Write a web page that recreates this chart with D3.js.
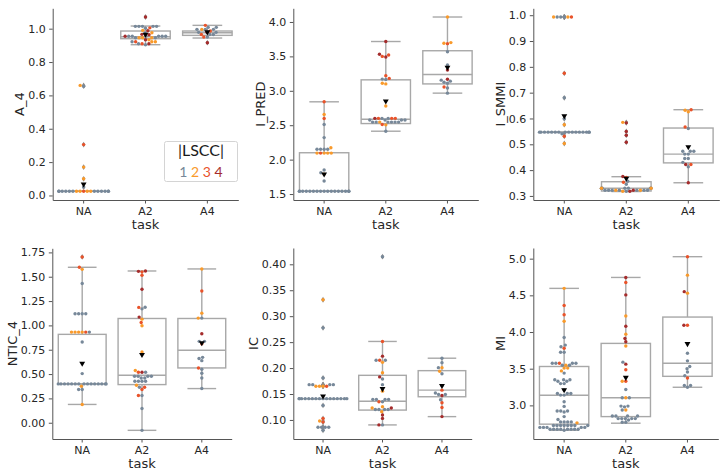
<!DOCTYPE html>
<html>
<head>
<meta charset="utf-8">
<script src="https://cdn.jsdelivr.net/npm/d3@7"></script>
<style>
  body { margin: 0; background: #fff; }
  svg { display: block; }
</style>
</head>
<body>
<svg id="chart" width="727" height="475"></svg>
<script>
// categories and LSCC classes
var tasks = ["NA", "A2", "A4"];
var lsccLabels = ["1", "2", "3", "4"];
var lsccColors = ["#778899", "#f99a2b", "#e9532a", "#a52c2c"];

// ---- A_4 ----  points are [value, lscc]
var a4NA = [[0.66,2],[0.655,1],[0.305,3],[0.17,2],[0.10,2],[0.05,1],
  [0.025,3],[0.025,2],[0.025,2],[0.025,2],[0.025,2],[0.025,1],[0.025,1],[0.025,1],[0.025,1],
  [0.025,1],[0.025,1],[0.025,1],[0.025,1],[0.025,1],[0.025,1],[0.025,1],[0.025,1]];
var a4A2 = [[1.070,4],[1.014,1],[1.014,1],[1.014,1],[1.014,1],[1.014,1],[1.005,3],[1.003,1],
  [0.990,2],[0.988,4],[0.976,2],[0.975,1],[0.966,4],[0.964,4],
  [0.955,1],[0.955,1],[0.955,1],[0.955,1],[0.955,1],[0.955,1],[0.955,4],
  [0.946,2],[0.946,2],[0.946,2],[0.946,1],[0.946,1],[0.934,4],[0.934,2],
  [0.922,2],[0.922,3],[0.922,2],[0.922,1],[0.910,3],[0.910,4],[0.910,1],[0.904,1]];
var a4A4 = [[1.020,3],[1.008,1],[1.008,1],[0.996,1],[0.996,2],[0.996,1],[0.996,1],[0.986,3],
  [0.978,4],[0.978,1],[0.978,1],[0.965,1],[0.965,3],[0.965,1],[0.950,1],[0.950,3],[0.916,4]];
// box stats per task: [q1, median, q3, whisker low, whisker high]
var a4Box = [[0.025,0.025,0.025,0.025,0.025],[0.940,0.952,0.986,0.904,1.016],[0.960,0.976,0.986,0.944,1.020]];
var a4Mean = [0.068, 0.966, 0.980];
var a4Ticks = [0.0, 0.2, 0.4, 0.6, 0.8, 1.0];

// ---- I_PRED ----
var ipNA = [[2.84,3],[2.655,2],[2.597,3],[2.51,1],[2.32,1],[2.173,2],[2.15,1],[2.15,1],[2.15,1],[2.15,1],
  [2.095,2],[2.095,3],[2.095,2],[2.095,2],[2.095,2],[1.85,1],[1.81,1],[1.79,2],[1.69,1],
  [1.54,1],[1.54,1],[1.54,1],[1.54,1],[1.54,1],[1.54,1],[1.54,1],[1.54,1],[1.54,1],
  [1.54,1],[1.54,1],[1.54,1],[1.54,1],[1.54,1],[1.54,1],[1.54,1],[1.54,1]];
var ipA2 = [[3.716,4],[3.53,4],[3.52,3],[3.50,3],[3.49,4],[3.22,3],[3.18,3],[3.17,1],[3.165,1],
  [3.11,2],[3.10,2],[2.78,2],[2.60,1],[2.60,1],[2.60,3],[2.60,3],[2.60,3],[2.60,4],
  [2.575,1],[2.575,1],[2.575,1],[2.575,1],[2.545,1],[2.545,1],[2.545,2],[2.545,1],[2.545,1],
  [2.545,1],[2.545,1],[2.51,3],[2.505,2],[2.413,1]];
var ipA4 = [[4.072,2],[3.69,2],[3.685,3],[3.70,2],[3.567,1],[3.375,1],[3.303,4],[3.168,4],[3.155,1],
  [3.14,1],[3.125,1],[3.11,1],[3.055,3],[3.04,1],[2.966,1]];
var ipBox = [[1.54,1.54,2.10,1.54,2.84],[2.524,2.587,3.159,2.413,3.716],[3.10,3.236,3.582,2.966,4.072]];
var ipMean = [1.79, 2.85, 3.34];
var ipTicks = [1.5, 2.0, 2.5, 3.0, 3.5, 4.0];

// ---- I_SMMI ----
var smNA = [[0.993,1],[0.993,1],[0.993,2],[0.993,1],[0.993,3],[0.993,2],[0.775,3],[0.68,1],[0.599,1],[0.576,2],
  [0.547,1],[0.547,1],[0.547,1],[0.547,1],[0.547,1],[0.547,1],[0.547,1],[0.547,1],
  [0.547,1],[0.547,1],[0.547,1],[0.547,1],[0.547,1],[0.547,1],[0.547,1],[0.547,1],
  [0.541,1],[0.531,3],[0.503,2]];
var smA2 = [[0.585,2],[0.583,4],[0.55,4],[0.535,4],[0.508,4],[0.375,4],[0.372,3],[0.357,1],[0.353,3],[0.345,1],
  [0.33,1],[0.33,1],[0.33,1],[0.33,1],[0.33,1],[0.33,1],[0.33,1],[0.33,2],[0.33,2],
  [0.322,1],[0.322,4],[0.322,2],[0.322,1],[0.322,1],[0.322,2],[0.322,1],[0.322,1],[0.322,1],[0.322,1],
  [0.318,1],[0.318,2],[0.318,4]];
var smA4 = [[0.634,3],[0.632,2],[0.626,2],[0.567,3],[0.561,1],[0.473,1],[0.473,1],[0.473,1],[0.462,1],[0.462,1],
  [0.445,1],[0.445,1],[0.43,1],[0.422,4],[0.422,3],[0.413,1],[0.351,4]];
var smBox = [[0.547,0.547,0.547,0.547,0.547],[0.319,0.33,0.355,0.317,0.3745],[0.428,0.462,0.563,0.351,0.634]];
var smMean = [0.61, 0.368, 0.49];
var smTicks = [0.3, 0.4, 0.5, 0.6, 0.7, 0.8, 0.9, 1.0];

// ---- NTIC_4 ----
var ntNA = [[1.703,3],[1.597,3],[1.576,2],[1.43,1],[1.119,1],[1.119,1],[1.119,1],[1.119,1],
  [0.931,2],[0.931,2],[0.931,3],[0.931,2],[0.931,1],[0.931,2],[0.829,1],[0.505,1],
  [0.399,1],[0.399,1],[0.399,1],[0.399,1],[0.399,1],[0.399,1],[0.399,1],[0.399,1],
  [0.399,1],[0.399,1],[0.399,1],[0.399,1],[0.399,1],[0.399,1],[0.399,1],
  [0.375,2],[0.341,1],[0.341,1],[0.188,2]];
var ntA2 = [[1.559,4],[1.555,4],[1.55,3],[1.515,3],[1.372,4],[1.187,1],[1.185,3],[1.17,1],[1.085,4],
  [1.064,2],[1.03,3],[0.996,2],[0.727,2],[0.536,2],[0.519,4],[0.519,3],[0.519,1],
  [0.478,1],[0.478,1],[0.478,1],[0.478,1],[0.46,1],[0.46,1],[0.426,1],[0.426,1],[0.426,1],[0.426,1],
  [0.385,2],[0.365,1],[0.365,3],[0.341,3],[0.28,1],[0.28,3],[0.147,1],[-0.078,1]];
var ntA4 = [[1.58,2],[1.354,3],[1.126,2],[1.075,1],[1.075,2],[0.914,4],[0.836,1],[0.836,1],[0.812,3],
  [0.672,1],[0.66,1],[0.638,1],[0.563,3],[0.55,1],[0.508,1],[0.46,1],[0.351,1]];
var ntBox = [[0.399,0.40,0.908,0.188,1.597],[0.392,0.488,1.071,-0.078,1.559],[0.563,0.744,1.071,0.351,1.58]];
var ntMean = [0.61, 0.70, 0.82];
var ntTicks = [0.00, 0.25, 0.50, 0.75, 1.00, 1.25, 1.50, 1.75];

// ---- IC ----
var icNA = [[0.3317,2],[0.2775,1],[0.181,1],[0.168,1],[0.168,1],[0.168,1],[0.168,1],
  [0.165,2],[0.165,2],[0.165,3],[0.165,2],
  [0.141,1],[0.141,1],[0.141,1],[0.141,1],[0.141,1],[0.141,1],[0.141,1],[0.141,1],
  [0.141,1],[0.141,1],[0.141,1],[0.141,1],[0.141,1],[0.141,1],[0.141,1],[0.141,1],
  [0.128,1],[0.103,3],[0.098,2],[0.096,3],[0.086,1],[0.086,1],[0.086,1],[0.086,1],[0.080,1]];
var icA2 = [[0.4147,1],[0.2513,3],[0.223,4],[0.215,3],[0.215,1],[0.215,1],[0.211,2],[0.191,2],[0.183,4],
  [0.179,1],[0.168,1],[0.1555,2],[0.1396,1],[0.1396,1],[0.1396,1],[0.1396,1],[0.135,1],[0.135,3],
  [0.1255,2],[0.123,4],[0.123,2],[0.120,1],[0.120,1],[0.120,1],[0.120,1],[0.116,2],[0.1096,4],
  [0.103,4],[0.0904,1],[0.0904,4]];
var icA4 = [[0.219,1],[0.2104,1],[0.2008,2],[0.2008,1],[0.194,2],[0.189,1],[0.166,1],[0.1574,3],[0.152,1],
  [0.149,1],[0.149,1],[0.147,4],[0.139,1],[0.133,3],[0.124,3],[0.1064,4]];
var icBox = [[0.141,0.141,0.141,0.141,0.141],[0.119,0.136,0.186,0.0904,0.2513],[0.1447,0.1574,0.195,0.1064,0.219]];
var icMean = [0.146, 0.160, 0.166];
var icTicks = [0.10, 0.15, 0.20, 0.25, 0.30, 0.35, 0.40];

// ---- MI ----
var miNA = [[4.595,2],[4.362,3],[4.236,3],[4.146,2],[3.926,1],[3.822,1],[3.80,1],[3.778,3],[3.724,1],[3.724,1],
  [3.575,3],[3.575,1],[3.575,1],[3.575,1],[3.575,1],[3.548,2],[3.548,1],[3.548,1],[3.508,2],[3.508,2],
  [3.47,2],[3.44,1],[3.35,1],[3.35,1],[3.35,1],[3.328,1],[3.328,1],[3.297,1],[3.297,1],[3.21,1],
  [3.162,1],[3.162,1],[3.162,1],[3.14,1],[3.14,1],[3.049,1],[2.986,1],[2.924,1],[2.924,1],[2.924,1],
  [2.91,1],[2.847,1],[2.807,1],[2.775,1],[2.775,1],[2.775,1],[2.775,1],[2.762,2],
  [2.725,1],[2.725,1],[2.725,1],[2.725,1],[2.725,1],[2.725,1],[2.725,1],[2.725,1],
  [2.70,1],[2.70,1],[2.70,1],[2.70,1],[2.70,1],
  [2.675,1],[2.675,1],[2.675,1],[2.675,1],[2.675,1],[2.675,1],[2.675,1],[2.675,1],[2.66,1]];
var miA2 = [[4.744,4],[4.676,3],[4.506,4],[4.218,2],[4.079,4],[3.971,2],[3.912,4],[3.867,4],[3.809,2],
  [3.589,1],[3.562,4],[3.485,3],[3.328,3],[3.328,2],[3.216,1],[3.103,2],[3.103,1],[3.103,1],
  [2.99,1],[2.99,1],[2.98,1],[2.937,2],[2.937,1],[2.856,1],[2.856,1],[2.856,1],[2.856,1],
  [2.82,1],[2.82,1],[2.82,1],[2.82,1],[2.82,1],[2.80,1],[2.77,1],[2.77,1]];
var miA4 = [[5.027,3],[4.775,2],[4.55,4],[4.53,2],[4.092,3],[4.092,4],[3.71,1],[3.607,1],[3.53,1],[3.50,1],
  [3.454,1],[3.404,1],[3.373,3],[3.27,1],[3.27,1],[3.247,1]];
var miBox = [[2.744,3.139,3.53,2.66,4.595],[2.847,3.103,3.845,2.757,4.744],[3.396,3.575,4.204,3.247,5.027]];
var miMean = [3.21, 3.38, 3.84];
var miTicks = [3.0, 3.5, 4.0, 4.5, 5.0];

var panels = [
  {label: "A_4",    groups: [a4NA, a4A2, a4A4], box: a4Box, mean: a4Mean, ticks: a4Ticks, fmt: ".1f"},
  {label: "I_PRED", groups: [ipNA, ipA2, ipA4], box: ipBox, mean: ipMean, ticks: ipTicks, fmt: ".1f"},
  {label: "I_SMMI", groups: [smNA, smA2, smA4], box: smBox, mean: smMean, ticks: smTicks, fmt: ".1f"},
  {label: "NTIC_4", groups: [ntNA, ntA2, ntA4], box: ntBox, mean: ntMean, ticks: ntTicks, fmt: ".2f"},
  {label: "IC",     groups: [icNA, icA2, icA4], box: icBox, mean: icMean, ticks: icTicks, fmt: ".2f"},
  {label: "MI",     groups: [miNA, miA2, miA4], box: miBox, mean: miMean, ticks: miTicks, fmt: ".1f"}
];

// axes frames (left, right, top, bottom) in px
var frames = [
  {l: 52.7, r: 238.3, t: 8.3, b: 200},
  {l: 293.3, r: 478.3, t: 8.3, b: 200},
  {l: 533.3, r: 719.3, t: 8.3, b: 200},
  {l: 52.3, r: 231.7, t: 248.3, b: 439},
  {l: 293.3, r: 471.7, t: 248, b: 439},
  {l: 533.3, r: 718.3, t: 248, b: 439}
];

var FONT = "DejaVu Sans, sans-serif";
var INK = "#262626";
var SPINE = "#555555";
var BOXC = "#a8a8a8";
var R = 1.7;

var svg = d3.select("#chart");

// seaborn-like beeswarm: sort by value, put each point at the free spot nearest the midline
function swarm(pts, y, r, halfW) {
  var d = 2 * r;
  var order = pts.map(function(p, i) { return {v: p[0], c: p[1], y: y(p[0]), i: i}; })
                 .sort(function(a, b) { return a.v - b.v || a.i - b.i; });
  var placed = [];
  order.forEach(function(p) {
    var nb = placed.filter(function(q) { return Math.abs(q.y - p.y) < d; });
    var cands = [0];
    var leftFirst = true;
    nb.forEach(function(q) {
      var dy = p.y - q.y;
      var dx = Math.sqrt(Math.max(d * d - dy * dy, 0)) * 1.05;
      if (leftFirst) cands.push(q.dx - dx, q.dx + dx);
      else cands.push(q.dx + dx, q.dx - dx);
      leftFirst = !leftFirst;
    });
    var sorted = cands.map(function(x, k) { return {x: x, k: k}; })
      .sort(function(a, b) { return Math.abs(a.x) - Math.abs(b.x) || a.k - b.k; });
    var chosen = 0;
    for (var s = 0; s < sorted.length; s++) {
      var cx = sorted[s].x;
      var ok = nb.every(function(q) {
        return (q.dx - cx) * (q.dx - cx) + (q.y - p.y) * (q.y - p.y) >= d * d - 1e-6;
      });
      if (ok) { chosen = cx; break; }
    }
    p.dx = chosen;
    placed.push(p);
  });
  // points that do not fit are piled at the edges
  placed.forEach(function(p) { p.px = Math.max(-halfW, Math.min(halfW, p.dx)); });
  return placed;
}

function drawPanel(p, f, idx) {
  var g = svg.append("g").attr("class", "panel" + idx);
  var all = d3.merge(p.groups);
  var ext = d3.extent(all, function(d) { return d[0]; });
  var pad = (ext[1] - ext[0]) * 0.05;
  var y = d3.scaleLinear().domain([ext[0] - pad, ext[1] + pad]).range([f.b, f.t]);
  var x = d3.scaleBand().domain(tasks).range([f.l, f.r]);
  var bw = x.bandwidth() * 0.8;
  var capW = bw * 0.6;
  var tol = (ext[1] - ext[0]) * 0.002;

  // boxes
  tasks.forEach(function(t, i) {
    var cx = x(t) + x.bandwidth() / 2;
    var s = p.box[i];
    var bg = g.append("g").attr("stroke", BOXC).attr("stroke-width", 1.4).attr("fill", "none");
    bg.append("line").attr("x1", cx).attr("x2", cx).attr("y1", y(s[0])).attr("y2", y(s[3]));
    bg.append("line").attr("x1", cx).attr("x2", cx).attr("y1", y(s[2])).attr("y2", y(s[4]));
    bg.append("line").attr("x1", cx - capW / 2).attr("x2", cx + capW / 2).attr("y1", y(s[3])).attr("y2", y(s[3]));
    bg.append("line").attr("x1", cx - capW / 2).attr("x2", cx + capW / 2).attr("y1", y(s[4])).attr("y2", y(s[4]));
    bg.append("rect").attr("x", cx - bw / 2).attr("width", bw)
      .attr("y", y(s[2])).attr("height", Math.max(0, y(s[0]) - y(s[2])));
    bg.append("line").attr("x1", cx - bw / 2).attr("x2", cx + bw / 2).attr("y1", y(s[1])).attr("y2", y(s[1]));

    // fliers (thin diamonds) for points beyond the whiskers
    var fl = p.groups[i].filter(function(d) { return d[0] > s[4] + tol || d[0] < s[3] - tol; });
    g.selectAll(null).data(fl).enter().append("path")
      .attr("d", "M0,-2.9L1.8,0L0,2.9L-1.8,0Z")
      .attr("transform", function(d) { return "translate(" + cx + "," + y(d[0]) + ")"; })
      .attr("fill", "#8d8d8d");
  });

  // swarm points
  tasks.forEach(function(t, i) {
    var cx = x(t) + x.bandwidth() / 2;
    var pts = swarm(p.groups[i], y, R, x.bandwidth() * 0.4);
    g.selectAll(null).data(pts).enter().append("circle")
      .attr("cx", function(d) { return cx + d.px; })
      .attr("cy", function(d) { return d.y; })
      .attr("r", R)
      .attr("fill", function(d) { return lsccColors[d.c - 1]; });
  });

  // mean markers
  var tri = d3.symbol().type(d3.symbolTriangle).size(15);
  g.selectAll(null).data(p.mean).enter().append("path")
    .attr("d", tri)
    .attr("transform", function(d, i) {
      return "translate(" + (x(tasks[i]) + x.bandwidth() / 2) + "," + y(d) + ") rotate(180)";
    })
    .attr("fill", "#000");

  // axes
  var ya = g.append("g").attr("transform", "translate(" + f.l + ",0)")
    .call(d3.axisLeft(y).tickValues(p.ticks).tickFormat(d3.format(p.fmt))
      .tickSize(3.5).tickSizeOuter(0).tickPadding(3.5));
  var xa = g.append("g").attr("transform", "translate(0," + f.b + ")")
    .call(d3.axisBottom(x).tickSize(3.5).tickSizeOuter(0).tickPadding(3.5));
  [ya, xa].forEach(function(a) {
    a.selectAll("path, line").attr("stroke", SPINE).attr("stroke-width", 1);
    a.selectAll("text").attr("fill", INK).style("font-family", FONT).style("font-size", "11px");
  });

  var minX = d3.min(ya.selectAll("text").nodes(), function(n) { return n.getBBox().x; }) + f.l;
  g.append("text")
    .attr("transform", "translate(" + (minX - 4) + "," + ((f.t + f.b) / 2) + ") rotate(-90)")
    .attr("text-anchor", "middle")
    .attr("fill", INK).style("font-family", FONT).style("font-size", "13px")
    .text(p.label);
  g.append("text")
    .attr("x", (f.l + f.r) / 2).attr("y", f.b + 29.3)
    .attr("text-anchor", "middle")
    .attr("fill", INK).style("font-family", FONT).style("font-size", "13px")
    .text("task");
}

panels.forEach(function(p, i) { drawPanel(p, frames[i], i); });

// LSCC legend inside the first panel
var lg = svg.append("g");
lg.append("rect").attr("x", 164.5).attr("y", 141.5).attr("width", 73).attr("height", 40).attr("rx", 2)
  .attr("fill", "#fff").attr("stroke", "#d4d4d4");
lg.append("text").attr("x", 201).attr("y", 156).attr("text-anchor", "middle")
  .attr("fill", "#1a1a1a").style("font-family", "Lato, sans-serif").style("font-size", "16px")
  .text("|LSCC|");
var lt = lg.append("text").attr("x", 201).attr("y", 176.5).attr("text-anchor", "middle")
  .style("font-family", "Lato, sans-serif").style("font-size", "14px");
lsccLabels.forEach(function(s, i) {
  lt.append("tspan").attr("fill", lsccColors[i]).text((i ? " " : "") + s);
});
</script>
</body>
</html>
